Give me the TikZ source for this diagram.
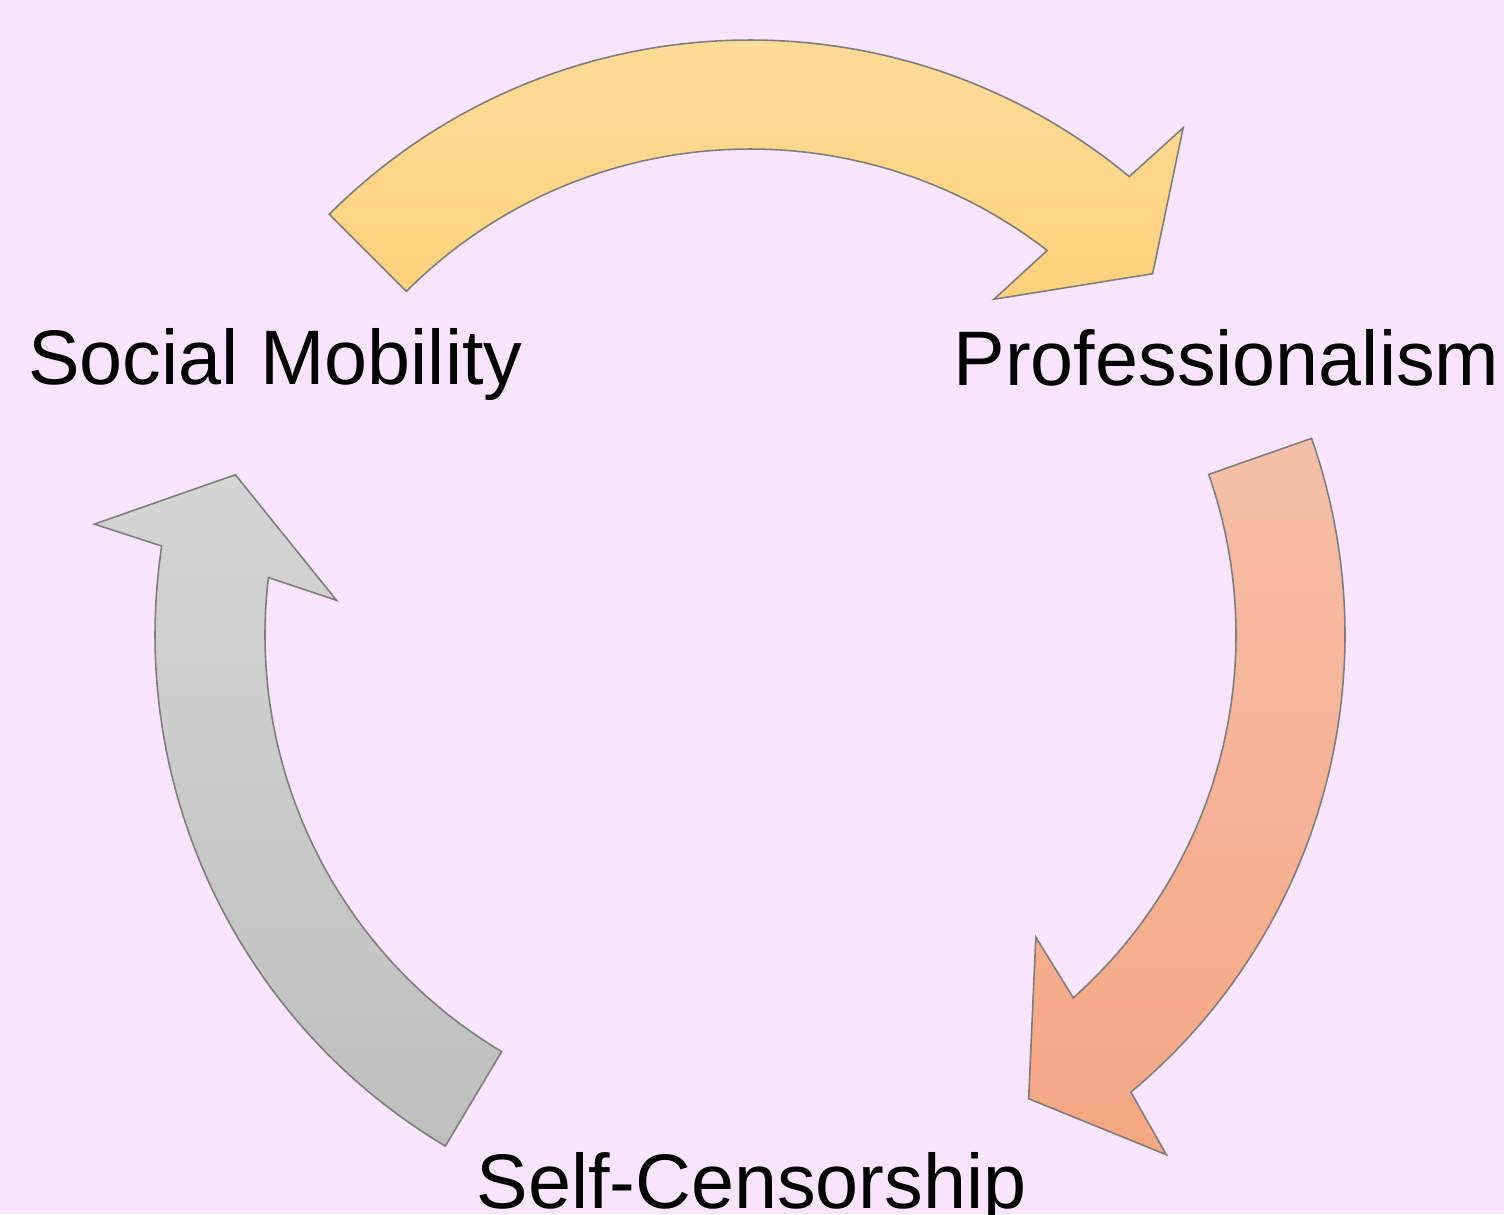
\documentclass[tikz,border=0pt]{standalone}
\usepackage{fontspec}
\setmainfont{Liberation Sans}
\definecolor{bgpink}{RGB}{248,228,252}
\definecolor{sunlight}{RGB}{254,221,158}
\definecolor{sundark}{RGB}{254,210,124}
\definecolor{salmonlight}{RGB}{245,191,168}
\definecolor{salmondark}{RGB}{245,166,130}
\definecolor{greylight}{RGB}{213,213,213}
\definecolor{greydark}{RGB}{190,190,190}
\definecolor{rimgrey}{RGB}{125,125,125}

\begin{document}
\begin{tikzpicture}[
  stagename/.style={inner sep=0pt, anchor=base, font=\fontsize{22}{26}\selectfont},
  bent/.style={draw=rimgrey, line width=0.45pt, line join=miter}]
   \path[use as bounding box, fill=bgpink] (0,0) rectangle (15.04,12.14);
   \coordinate (hub) at (7.5,5.79);
   % top arrow
   \shadedraw[bent, top color=sunlight, bottom color=sundark, shift={(hub)}]
     (135:5.95) arc[start angle=135, end angle=50.4, radius=5.95] -- (49.5:6.67)
     -- (41.9:5.41) -- (54.0:4.15) -- (52.3:4.86) arc[start angle=52.3, end angle=135, radius=4.86] -- cycle;
   % right arrow
   \shadedraw[bent, top color=salmonlight, bottom color=salmondark, shift={(hub)}]
     (19.3:5.95) arc[start angle=19.3, end angle=-50.2, radius=5.95] -- (-51.3:6.66)
     -- (-59.0:5.41) -- (-46.6:4.16) -- (-48.3:4.86) arc[start angle=-48.3, end angle=19.3, radius=4.86] -- cycle;
   % left arrow
   \shadedraw[bent, top color=greylight, bottom color=greydark, shift={(hub)}]
     (239.2:5.95) arc[start angle=239.2, end angle=171.4, radius=5.95] -- (170.4:6.65)
     -- (162.7:5.39) -- (175.2:4.15) -- (173.2:4.85) arc[start angle=173.2, end angle=239.2, radius=4.85] -- cycle;
   \node[stagename] (mobility) at (2.755,8.30) {Social Mobility};
   \node[stagename] (prof) at (12.265,8.29) {Professionalism};
   \node[stagename] (censor) at (7.515,0.06) {Self-Censorship};
\end{tikzpicture}
\end{document}
